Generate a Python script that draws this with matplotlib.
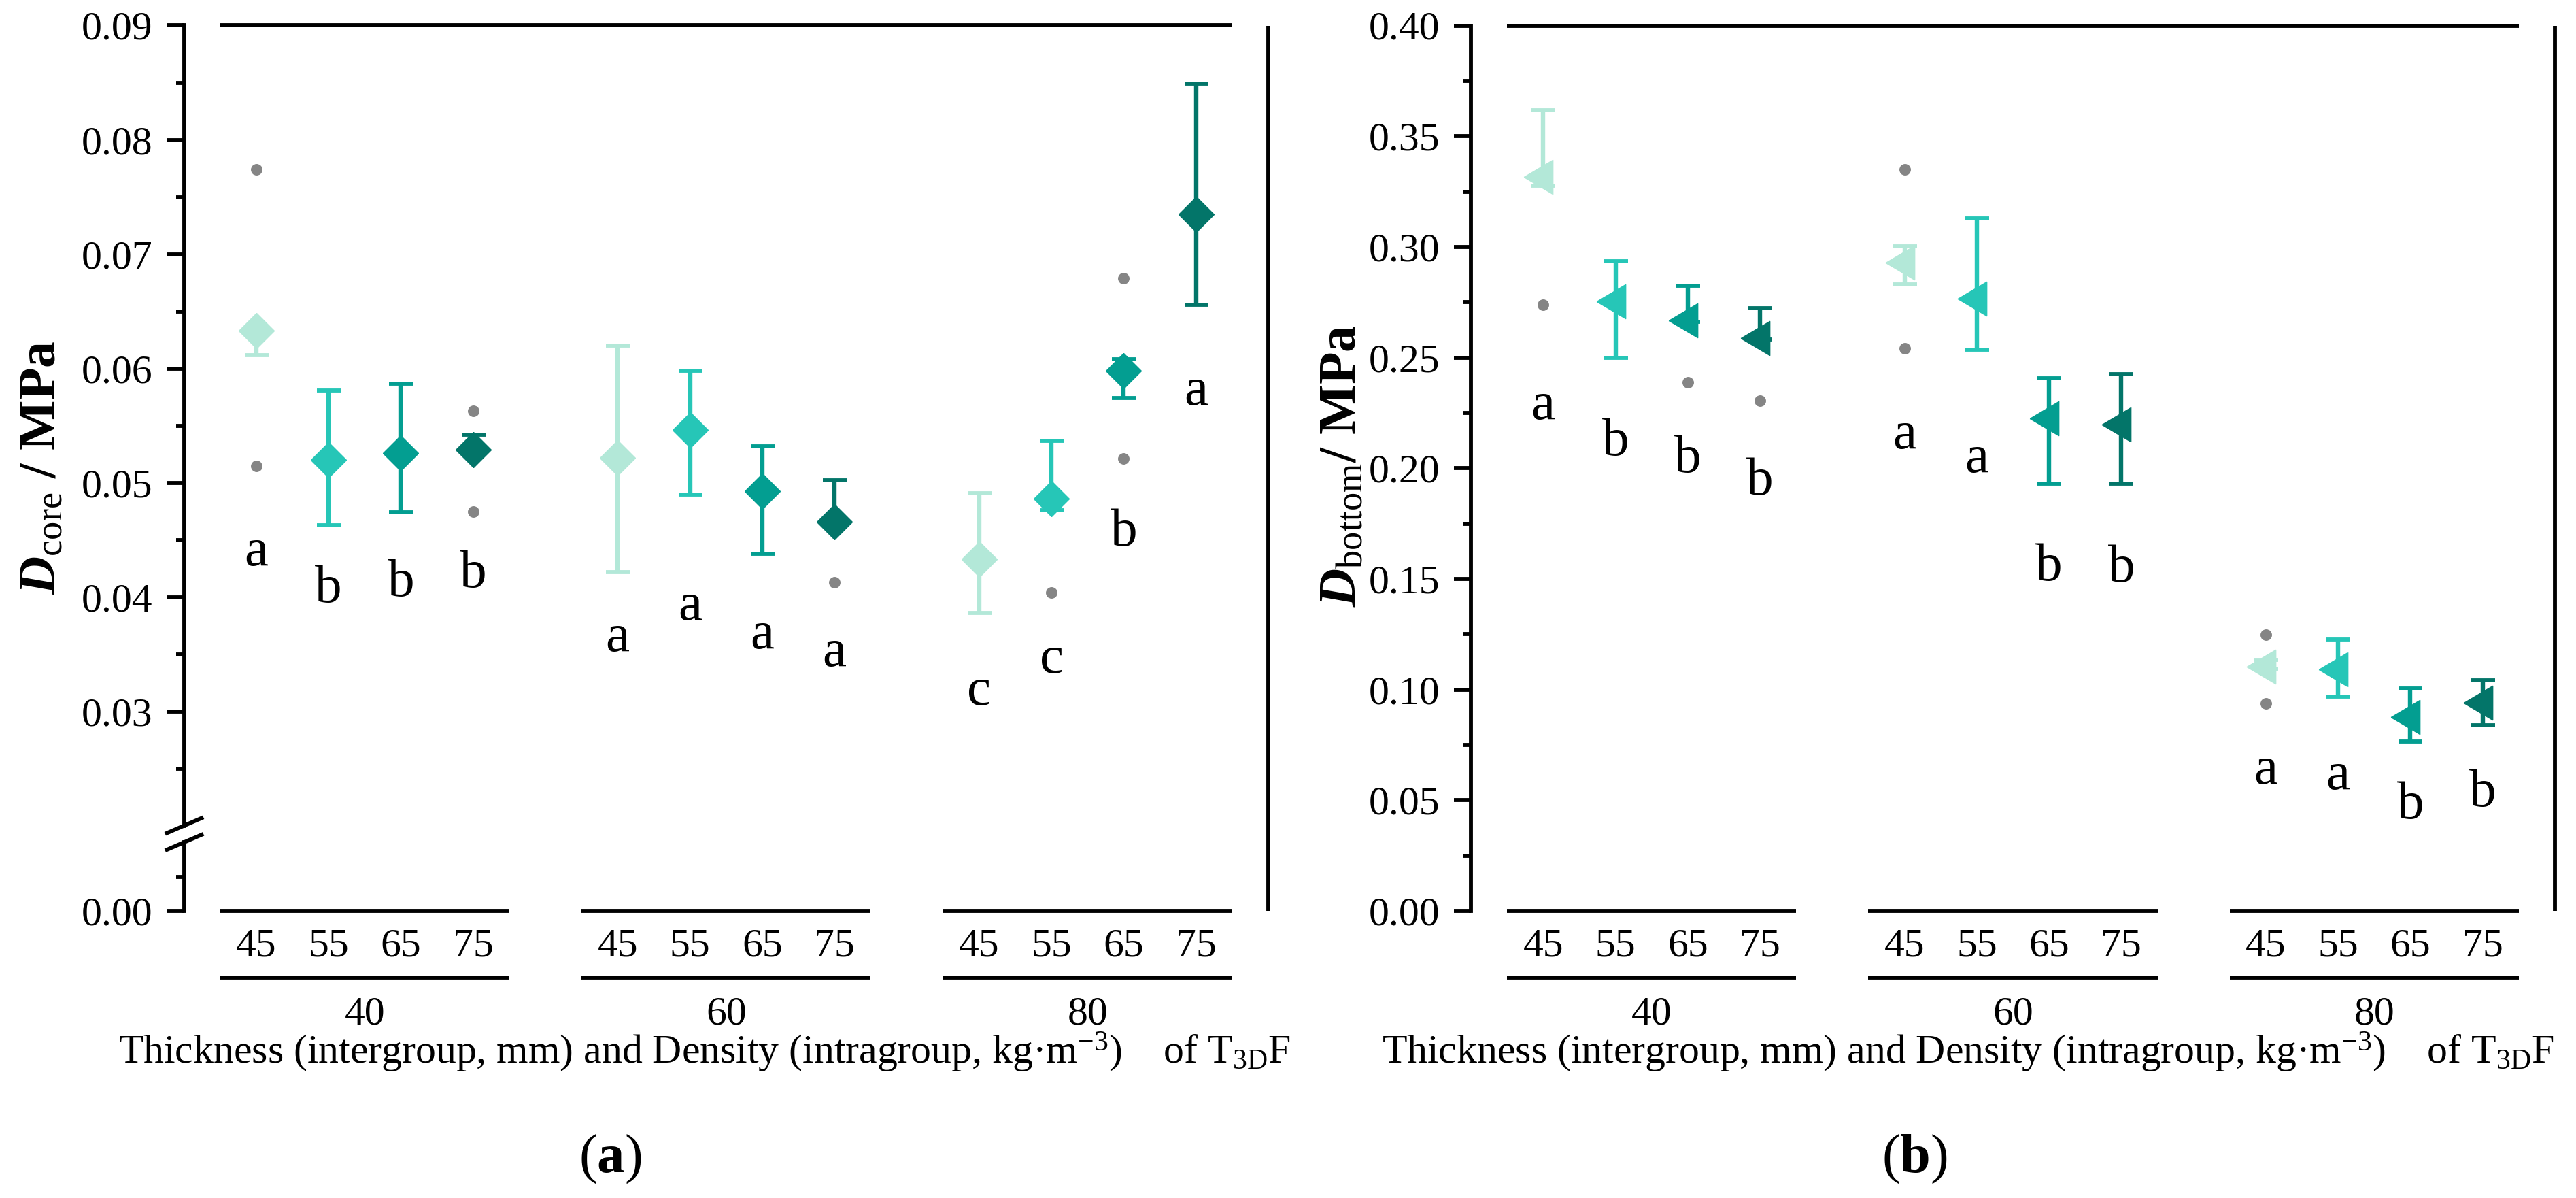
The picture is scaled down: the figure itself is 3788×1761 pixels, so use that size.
import matplotlib
matplotlib.use('Agg')
import matplotlib.pyplot as plt
import matplotlib.transforms as mtransforms
from matplotlib.lines import Line2D
from matplotlib.ticker import FixedLocator

plt.rcParams['font.family'] = ['Liberation Serif', 'DejaVu Serif']
plt.rcParams['mathtext.fontset'] = 'custom'
plt.rcParams['mathtext.rm'] = 'Liberation Serif'
plt.rcParams['mathtext.it'] = 'Liberation Serif:italic:bold'
plt.rcParams['mathtext.bf'] = 'Liberation Serif:bold'

# ---- data -------------------------------------------------------------
thickness = ['40', '60', '80']
density = ['45', '55', '65', '75']
colors = ['#b3e8d8', '#26c6b7', '#039e91', '#037569']

# (a) D_core, MPa  (order: 40/45..75, 60/45..75, 80/45..75)
core_mean = [0.0633, 0.0520, 0.0526, 0.0529, 0.0522, 0.0546,
             0.0493, 0.0466, 0.0433, 0.0486, 0.0598, 0.0735]
core_low = [0.0612, 0.0463, 0.0474, 0.0525, 0.0422, 0.0490,
            0.0438, 0.0463, 0.0386, 0.0476, 0.0574, 0.0656]
core_high = [0.0636, 0.0581, 0.0587, 0.0542, 0.0620, 0.0598,
             0.0532, 0.0502, 0.0491, 0.0537, 0.0608, 0.0849]
core_letters = ['a', 'b', 'b', 'b', 'a', 'a', 'a', 'a', 'c', 'c', 'b', 'a']
core_letter_y = [0.0428, 0.0396, 0.0401, 0.0409, 0.0353, 0.0380,
                 0.0355, 0.0340, 0.0306, 0.0334, 0.0445, 0.0568]
core_out_idx = [0, 0, 3, 3, 7, 9, 10, 10]
core_out_val = [0.0774, 0.0515, 0.0563, 0.0475, 0.0413, 0.0404, 0.0679, 0.0521]

# (b) D_bottom, MPa
bot_mean = [0.3315, 0.2754, 0.2669, 0.2588, 0.2930, 0.2765,
            0.2225, 0.2197, 0.1103, 0.1090, 0.0876, 0.0940]
bot_low = [0.3277, 0.2500, 0.2662, 0.2582, 0.2831, 0.2536,
           0.1929, 0.1929, 0.1093, 0.0968, 0.0764, 0.0839]
bot_high = [0.3618, 0.2934, 0.2824, 0.2723, 0.3004, 0.3129,
            0.2407, 0.2426, 0.1133, 0.1226, 0.1006, 0.1042]
bot_letters = ['a', 'b', 'b', 'b', 'a', 'a', 'b', 'b', 'a', 'a', 'b', 'b']
bot_letter_y = [0.2222, 0.2058, 0.1981, 0.1880, 0.2091, 0.1981,
                0.1495, 0.1487, 0.0576, 0.0549, 0.0417, 0.0472]
bot_out_idx = [0, 2, 3, 4, 4, 8, 8]
bot_out_val = [0.2737, 0.2387, 0.2305, 0.3350, 0.2543, 0.1247, 0.0937]

xlabel = ('Thickness (intergroup, mm) and Density (intragroup, kg\u00b7m$^{-3}$)'
          '    of $\\mathrm{T_{3D}F}$')

# ---- layout -----------------------------------------------------------
W, H = 3788, 1761
LW = 2.1
TICK_FS = 21.5
xpos = [g * 5 + d + 1 for g in range(len(thickness)) for d in range(len(density))]

# triangle pointing left, centred on its centroid (as Origin does)
tri_left = [(-2.0, 0.0), (1.0, 1.77), (1.0, -1.77), (-2.0, 0.0)]


def box(l, r, t, b):
    return [l / W, 1 - b / H, (r - l) / W, (b - t) / H]


fig = plt.figure(figsize=(W / 200, H / 200), dpi=200)
ax_a = fig.add_axes(box(270.5, 1865, 37.5, 1214))
ax_a0 = fig.add_axes(box(270.5, 1865, 1238, 1339))
ax_b = fig.add_axes(box(2163, 3757, 37.5, 1339))


def style(ax):
    for s in ['top', 'right', 'bottom']:
        ax.spines[s].set_visible(False)
    ax.spines['left'].set_linewidth(LW)
    ax.set_xlim(0, 15)
    ax.tick_params(axis='y', which='major', direction='out', length=9,
                   width=LW, labelsize=TICK_FS, pad=7.5)
    ax.tick_params(axis='y', which='minor', direction='out', length=4.5,
                   width=LW)
    ax.yaxis.set_major_formatter(plt.FormatStrFormatter('%.2f'))


def draw_series(ax, mean, low, high, letters, letter_y, out_idx, out_val,
                marker, ms):
    for i, m in enumerate(mean):
        c = colors[i % 4]
        ax.errorbar(xpos[i], m, yerr=[[m - low[i]], [high[i] - m]],
                    fmt='none', ecolor=c, elinewidth=2.3, capsize=6.3,
                    capthick=LW, zorder=2)
        ax.plot(xpos[i], m, marker=marker, ms=ms, color=c, mec=c, mew=0.5,
                ls='none', zorder=3)
        ax.text(xpos[i], letter_y[i], letters[i], ha='center', va='baseline',
                fontsize=28.5, zorder=4)
    ax.plot([xpos[i] for i in out_idx], out_val, 'o', color='#858585',
            ms=6.1, mew=0, ls='none', zorder=4)


def bottom_axis(ax, label_right):
    ax.spines['bottom'].set_visible(False)
    ax.set_xticks(xpos, density * len(thickness))
    ax.tick_params(axis='x', length=0, pad=9, labelsize=TICK_FS)
    tr = mtransforms.blended_transform_factory(ax.transData, fig.transFigure)
    y0 = ax.get_ylim()[0]
    for g, t in enumerate(thickness):
        x0, x1 = g * 5 + 0.5, g * 5 + 4.5
        ax.plot([x0, x1], [y0, y0], color='k', lw=LW, clip_on=False,
                solid_capstyle='butt')
        ax.add_line(Line2D([x0, x1], [1 - 1437 / H] * 2, transform=tr,
                           color='k', lw=LW, clip_on=False,
                           solid_capstyle='butt'))
        ax.text(g * 5 + 2.5, 1 - 1505 / H, t, transform=tr, ha='center',
                va='baseline', fontsize=TICK_FS)
    fig.text(label_right, 1 - 1563 / H, xlabel, ha='right', va='baseline',
             fontsize=TICK_FS)


def frame_lines(ax, ytop):
    ax.plot([0.5, 14.5], [ytop, ytop], color='k', lw=LW, clip_on=False,
            solid_capstyle='butt')
    tr = mtransforms.blended_transform_factory(ax.transData, fig.transFigure)
    fig.add_artist(Line2D([15, 15], [1 - 1339 / H, 1 - 37.5 / H],
                          transform=tr, color='k', lw=LW,
                          solid_capstyle='butt'))


# ---- (a) --------------------------------------------------------------
style(ax_a)
ax_a.set_ylim(0.02, 0.09)
ax_a.set_yticks([0.03, 0.04, 0.05, 0.06, 0.07, 0.08, 0.09])
ax_a.yaxis.set_minor_locator(FixedLocator([0.025, 0.035, 0.045, 0.055,
                                           0.065, 0.075, 0.085]))
ax_a.tick_params(axis='x', bottom=False, labelbottom=False)
draw_series(ax_a, core_mean, core_low, core_high, core_letters,
            core_letter_y, core_out_idx, core_out_val, 'D', 13.4)
frame_lines(ax_a, 0.09)

style(ax_a0)
ax_a0.set_ylim(0, 0.01)
ax_a0.set_yticks([0.0])
ax_a0.yaxis.set_minor_locator(FixedLocator([0.005]))
bottom_axis(ax_a0, 1898 / W)

# axis break marks
for yb in (1213.5, 1238):
    fig.add_artist(Line2D([245.5 / W, 296.5 / W],
                          [1 - (yb + 11) / H, 1 - (yb - 11) / H],
                          transform=fig.transFigure, color='k', lw=LW))

fig.text(63 / W, 1 - 687 / H, '$D_{\\mathrm{core}}$ / MPa', rotation=90,
         ha='center', va='center', fontsize=28, fontweight='bold')

# ---- (b) --------------------------------------------------------------
style(ax_b)
ax_b.set_ylim(0, 0.40)
ax_b.set_yticks([0.0, 0.05, 0.10, 0.15, 0.20, 0.25, 0.30, 0.35, 0.40])
ax_b.yaxis.set_minor_locator(FixedLocator([0.025, 0.075, 0.125, 0.175,
                                           0.225, 0.275, 0.325, 0.375]))
draw_series(ax_b, bot_mean, bot_low, bot_high, bot_letters, bot_letter_y,
            bot_out_idx, bot_out_val, tri_left, 20.4)
frame_lines(ax_b, 0.40)
bottom_axis(ax_b, 3756 / W)

fig.text(1975 / W, 1 - 685 / H, '$D_{\\mathrm{bottom}}$/ MPa', rotation=90,
         ha='center', va='center', fontsize=28, fontweight='bold')

# panel labels
fig.text(897 / W, 1 - 1723 / H, '($\\mathbf{a}$)', ha='center',
         va='baseline', fontsize=29)
fig.text(2815 / W, 1 - 1723 / H, '($\\mathbf{b}$)', ha='center',
         va='baseline', fontsize=29)

fig.savefig('out.png', dpi=200)
